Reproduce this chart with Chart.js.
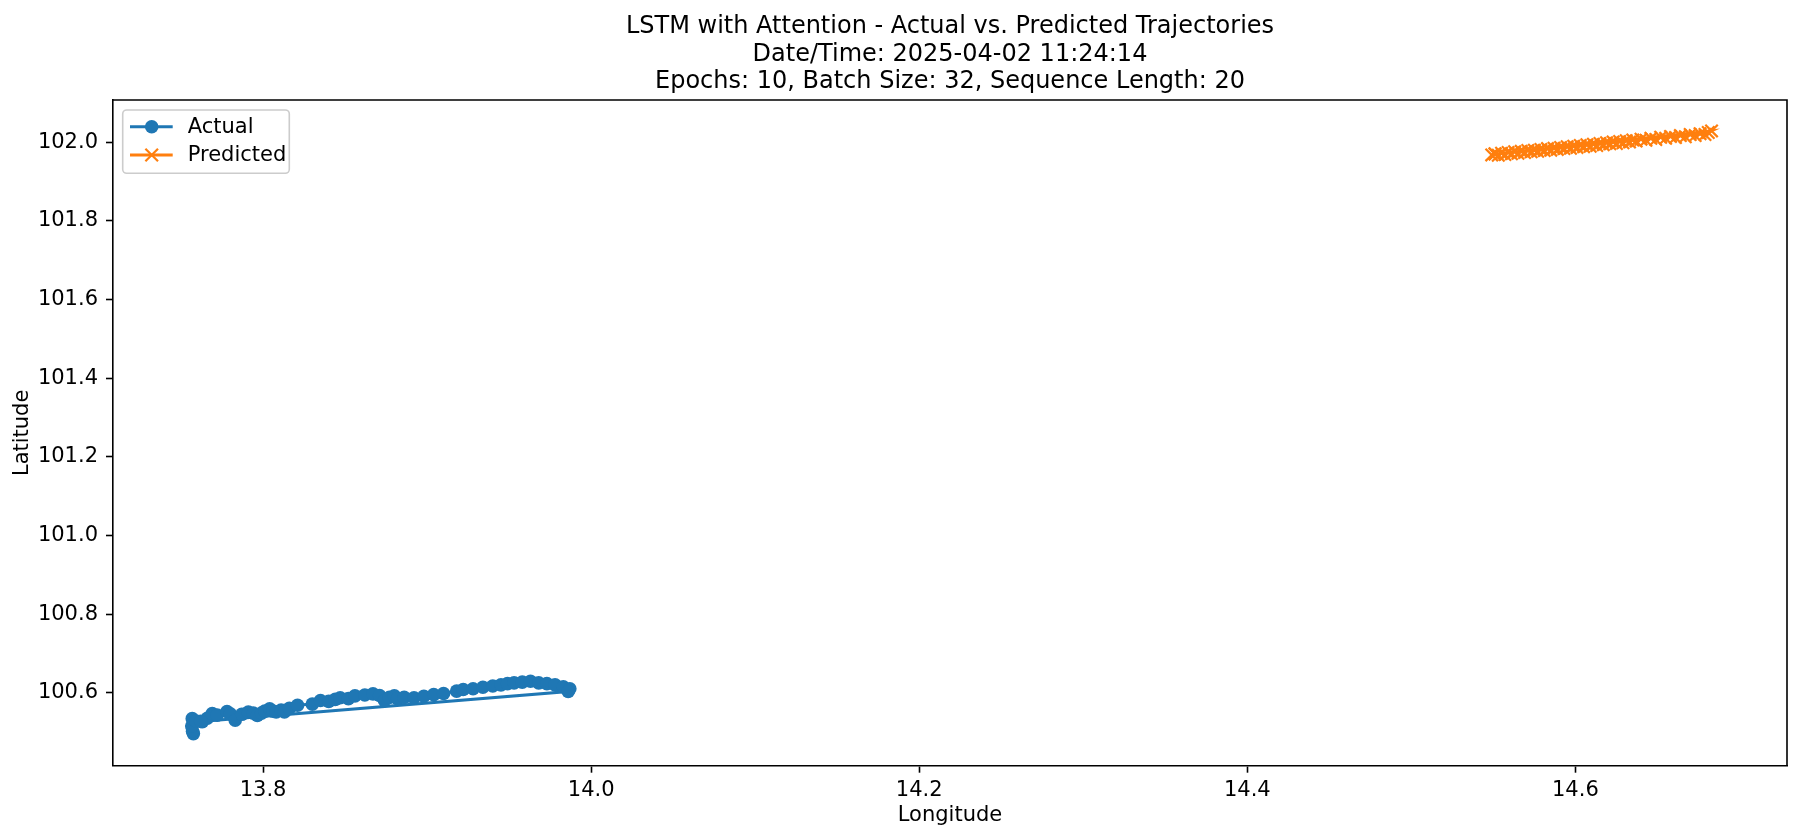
<!DOCTYPE html>
<html><head><meta charset="utf-8">
<script src="https://cdn.jsdelivr.net/npm/chart.js@4.4.1/dist/chart.umd.min.js"></script>
<style>html,body{margin:0;padding:0;background:#fff;} canvas{display:block;}</style>
</head><body>
<canvas id="c" width="1801" height="840" style="width:1801px;height:840px"></canvas>
<script>
const titleLines = [
  'LSTM with Attention - Actual vs. Predicted Trajectories',
  'Date/Time: 2025-04-02 11:24:14',
  'Epochs: 10, Batch Size: 32, Sequence Length: 20'
];
const seriesNames = ['Actual', 'Predicted'];
const xTitle = 'Longitude';
const yTitle = 'Latitude';
const xTicks = [13.8, 14.0, 14.2, 14.4, 14.6];
const yTicks = [100.6, 100.8, 101.0, 101.2, 101.4, 101.6, 101.8, 102.0];

const actualLon = [13.7575,13.7570,13.7565,13.7568,13.7590,13.7630,13.7660,13.7690,13.7720,13.7780,
  13.7800,13.7830,13.7870,13.7910,13.7940,13.7965,13.7990,13.8010,13.8040,13.8060,
  13.8080,13.8110,13.8130,13.8160,13.8210,13.8300,13.8350,13.8400,13.8440,13.8470,
  13.8520,13.8560,13.8620,13.8670,13.8710,13.8740,13.8770,13.8800,13.8820,13.8860,
  13.8920,13.8980,13.9040,13.9100,13.9180,13.9220,13.9280,13.9340,13.9400,13.9450,
  13.9490,13.9530,13.9580,13.9630,13.9680,13.9730,13.9780,13.9830,13.9870,13.9860,
  13.7620];
const actualLat = [100.496,100.502,100.515,100.534,100.528,100.526,100.535,100.547,100.543,100.552,
  100.546,100.530,100.545,100.551,100.548,100.542,100.548,100.553,100.559,100.553,
  100.551,100.556,100.551,100.560,100.568,100.571,100.580,100.578,100.583,100.587,
  100.585,100.592,100.594,100.597,100.593,100.580,100.588,100.592,100.585,100.588,
  100.587,100.591,100.595,100.598,100.604,100.608,100.610,100.614,100.617,100.620,
  100.623,100.625,100.627,100.629,100.625,100.623,100.620,100.615,100.610,100.603,
  100.527];

const predLon = [14.549,14.551,14.553,14.555,14.557,14.559,14.561,14.563,14.565,14.567,
  14.569,14.571,14.573,14.575,14.577,14.579,14.581,14.583,14.585,14.587,
  14.589,14.591,14.593,14.595,14.597,14.599,14.601,14.603,14.605,14.607,
  14.609,14.611,14.613,14.615,14.617,14.619,14.621,14.623,14.625,14.627,
  14.629,14.631,14.633,14.635,14.637,14.640,14.643,14.646,14.649,14.652,
  14.655,14.658,14.661,14.664,14.667,14.670,14.673,14.676,14.679,14.681,
  14.683,14.551];
const predLat = [101.968,101.971,101.967,101.972,101.969,101.974,101.971,101.976,101.972,101.977,
  101.974,101.979,101.976,101.980,101.977,101.982,101.979,101.984,101.980,101.985,
  101.982,101.987,101.984,101.989,101.985,101.990,101.987,101.992,101.989,101.994,
  101.990,101.995,101.992,101.997,101.994,101.999,101.996,102.001,101.997,102.002,
  101.999,102.004,102.001,102.006,102.003,102.008,102.005,102.010,102.007,102.013,
  102.010,102.015,102.012,102.017,102.014,102.020,102.017,102.022,102.020,102.025,
  102.029,101.970];

const FONT = "'DejaVu Sans', sans-serif";
const BLUE = '#1f77b4', ORANGE = '#ff7f0e';

function pts(xs, ys) { return xs.map((x, i) => ({x: x, y: ys[i]})); }

const framePlugin = {
  id: 'frame',
  afterDraw(chart) {
    const {ctx, chartArea: a} = chart;
    ctx.save();
    ctx.strokeStyle = '#000';
    ctx.lineWidth = 1.6;
    ctx.beginPath();
    ctx.moveTo(a.left, a.top); ctx.lineTo(a.right, a.top); ctx.lineTo(a.right, a.bottom);
    ctx.stroke();
    // legend
    const bx = 122.7, by = 110, bw = 166.6, bh = 63.3, r = 4;
    ctx.beginPath();
    ctx.moveTo(bx + r, by); ctx.lineTo(bx + bw - r, by); ctx.arcTo(bx + bw, by, bx + bw, by + r, r);
    ctx.lineTo(bx + bw, by + bh - r); ctx.arcTo(bx + bw, by + bh, bx + bw - r, by + bh, r);
    ctx.lineTo(bx + r, by + bh); ctx.arcTo(bx, by + bh, bx, by + bh - r, r);
    ctx.lineTo(bx, by + r); ctx.arcTo(bx, by, bx + r, by, r);
    ctx.closePath();
    ctx.fillStyle = 'rgba(255,255,255,0.8)'; ctx.fill();
    ctx.strokeStyle = 'rgba(204,204,204,1)'; ctx.lineWidth = 1.6; ctx.stroke();
    const rows = [126.7, 155];
    const cols = [BLUE, ORANGE];
    rows.forEach((y, i) => {
      ctx.strokeStyle = cols[i]; ctx.lineWidth = 3;
      ctx.beginPath(); ctx.moveTo(130, y); ctx.lineTo(172.7, y); ctx.stroke();
      if (i === 0) {
        ctx.fillStyle = BLUE; ctx.beginPath(); ctx.arc(151.7, y, 6.8, 0, Math.PI * 2); ctx.fill();
      } else {
        ctx.lineWidth = 2.2; const s = 6.3;
        ctx.beginPath(); ctx.moveTo(151.7 - s, y - s); ctx.lineTo(151.7 + s, y + s);
        ctx.moveTo(151.7 - s, y + s); ctx.lineTo(151.7 + s, y - s); ctx.stroke();
      }
      ctx.fillStyle = '#000'; ctx.font = '21px ' + FONT; ctx.textBaseline = 'middle'; ctx.textAlign = 'left';
      ctx.fillText(seriesNames[i], 187.7, y + 1);
    });
    ctx.restore();
  }
};

new Chart(document.getElementById('c'), {
  type: 'scatter',
  data: {
    datasets: [
      {
        label: seriesNames[0], data: pts(actualLon, actualLat), showLine: true,
        borderColor: BLUE, backgroundColor: BLUE, borderWidth: 3,
        pointStyle: 'circle', pointRadius: 6.8, pointBorderWidth: 0, pointBackgroundColor: BLUE,
        tension: 0
      },
      {
        label: seriesNames[1], data: pts(predLon, predLat), showLine: true,
        borderColor: ORANGE, backgroundColor: ORANGE, borderWidth: 3,
        pointStyle: 'crossRot', pointRadius: 8.8, pointBorderWidth: 2.2, pointBorderColor: ORANGE,
        tension: 0
      }
    ]
  },
  options: {
    responsive: false, animation: false, devicePixelRatio: 1,
    layout: { padding: { left: 0, right: 14, top: 0, bottom: 0 } },
    plugins: {
      legend: { display: false },
      tooltip: { enabled: false },
      title: {
        display: true, fullSize: false, text: titleLines, color: '#000',
        font: { family: FONT, size: 24, weight: 'normal', lineHeight: 1.15 },
        padding: { top: 13, bottom: 4.2 }
      }
    },
    scales: {
      x: {
        type: 'linear', min: 13.7085, max: 14.729,
        afterFit(s) { s.height = 74.3; },
        afterBuildTicks(s) { s.ticks = xTicks.map(v => ({value: v})); },
        grid: { drawOnChartArea: false, drawTicks: true, tickLength: 7, tickWidth: 1.6, tickColor: '#000' },
        border: { display: true, color: '#000', width: 1.6 },
        ticks: { color: '#000', font: { family: FONT, size: 21 }, padding: 5, maxRotation: 0,
          callback: v => Number(v).toFixed(1) },
        title: { display: true, text: xTitle, color: '#000', font: { family: FONT, size: 21, lineHeight: 1.2 },
          padding: { top: 0, bottom: 11.9 } }
      },
      y: {
        type: 'linear', min: 100.4143, max: 102.1076,
        afterFit(s) { s.width = 113; },
        afterBuildTicks(s) { s.ticks = yTicks.map(v => ({value: v})); },
        grid: { drawOnChartArea: false, drawTicks: true, tickLength: 7, tickWidth: 1.6, tickColor: '#000' },
        border: { display: true, color: '#000', width: 1.6 },
        ticks: { color: '#000', font: { family: FONT, size: 21 }, padding: 8,
          callback: v => Number(v).toFixed(1) },
        title: { display: true, text: yTitle, color: '#000', font: { family: FONT, size: 21, lineHeight: 1.2 },
          padding: { top: 10.4, bottom: 0 } }
      }
    }
  },
  plugins: [framePlugin]
});
</script>
</body></html>
